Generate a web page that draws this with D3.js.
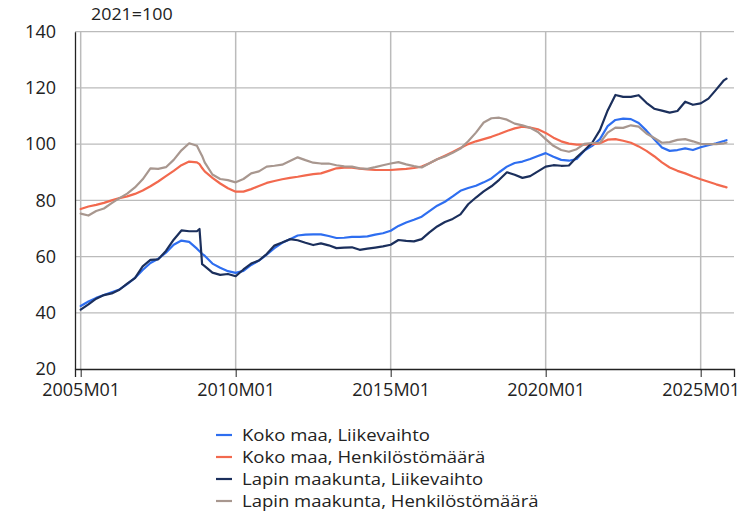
<!DOCTYPE html>
<html><head><meta charset="utf-8">
<script src="https://cdn.jsdelivr.net/npm/d3@7"></script>
<style>
html,body{margin:0;padding:0;background:#fff;}
text{font-family:"Open Sans",sans-serif;fill:#222;}
</style></head>
<body>
<svg id="chart" width="751" height="513"></svg>
<script>
const months = [
"2005M01","2005M04","2005M07","2005M10","2006M01","2006M04","2006M07","2006M10",
"2007M01","2007M04","2007M07","2007M10","2008M01","2008M04","2008M07","2008M10","2008M11","2008M12",
"2009M01","2009M04","2009M07","2009M10","2010M01","2010M04","2010M07","2010M10",
"2011M01","2011M04","2011M07","2011M10","2012M01","2012M04","2012M07","2012M10",
"2013M01","2013M04","2013M07","2013M10","2014M01","2014M04","2014M07","2014M10",
"2015M01","2015M04","2015M07","2015M10","2016M01","2016M04","2016M07","2016M10",
"2017M01","2017M04","2017M07","2017M10","2018M01","2018M04","2018M07","2018M10",
"2019M01","2019M04","2019M07","2019M10","2020M01","2020M04","2020M07","2020M10",
"2021M01","2021M04","2021M07","2021M10","2022M01","2022M04","2022M07","2022M10",
"2023M01","2023M04","2023M07","2023M10","2024M01","2024M04","2024M07","2024M10",
"2025M01","2025M04","2025M07","2025M10","2025M11"];

const kokoLiikevaihto = [42.4,44.0,45.3,46.3,47.3,48.3,50.2,52.4,55.2,57.7,59.2,61.4,64.2,65.7,65.2,62.8,61.9,61.0,
60.3,57.5,56.0,54.8,54.2,54.9,57.0,58.6,60.7,63.0,64.9,66.2,67.5,67.8,67.9,67.9,67.3,66.6,66.7,67.0,67.0,67.2,
67.8,68.3,69.2,70.9,72.1,73.1,74.2,76.2,78.1,79.5,81.4,83.4,84.4,85.2,86.4,87.8,90.0,92.0,93.3,93.8,94.7,95.8,
96.8,95.5,94.4,94.1,94.7,97.7,99.4,101.8,106.4,108.6,109.1,108.9,107.5,104.8,101.7,98.8,97.6,97.9,98.5,97.9,
98.9,99.6,100.3,101.1,101.4];

const kokoHenkilosto = [76.9,77.8,78.4,79.1,80.0,80.8,81.4,82.3,83.5,85.0,86.7,88.6,90.5,92.5,93.8,93.5,92.9,91.5,
90.3,88.0,86.0,84.3,83.1,83.1,84.0,85.1,86.2,86.9,87.5,88.0,88.4,88.9,89.3,89.6,90.5,91.4,91.6,91.6,91.3,91.0,
90.8,90.8,90.8,91.0,91.2,91.5,92.0,93.2,94.6,95.9,97.2,98.6,100.0,101.0,101.8,102.6,103.6,104.7,105.6,106.2,105.9,105.3,
104.0,102.3,101.0,100.2,99.8,99.8,100.0,100.3,101.6,101.8,101.2,100.5,99.2,97.6,95.7,93.5,91.7,90.5,89.6,88.5,
87.5,86.6,85.7,84.9,84.6];

const lappiLiikevaihto = [41.1,43.0,45.0,46.3,46.9,48.2,50.4,52.3,56.5,58.8,59.0,62.0,66.0,69.3,69.0,69.0,69.8,57.3,
56.6,54.3,53.5,53.8,53.0,55.4,57.5,58.6,60.9,63.9,65.0,66.2,65.8,64.9,64.1,64.7,64.0,63.0,63.2,63.3,62.4,62.8,
63.2,63.6,64.2,65.9,65.6,65.4,66.2,68.6,70.7,72.3,73.4,75.0,78.6,81.0,83.2,85.0,87.3,90.0,89.1,88.0,88.6,90.3,
92.0,92.5,92.3,92.4,95.3,97.8,100.5,105.0,112.0,117.5,116.8,116.8,117.4,114.7,112.6,111.9,111.2,111.8,115.1,114.0,
114.5,116.2,119.4,122.7,123.3];

const lappiHenkilosto = [75.3,74.6,76.2,77.1,79.0,80.8,82.4,84.6,87.5,91.4,91.2,91.8,94.4,97.8,100.3,99.4,97.6,95.8,
93.5,89.2,87.6,87.2,86.4,87.6,89.6,90.3,92.0,92.3,92.7,94.0,95.3,94.3,93.4,93.1,93.1,92.5,92.1,92.0,91.4,91.2,
91.8,92.5,93.1,93.6,92.8,92.2,91.7,93.2,94.6,95.6,96.9,98.4,101.0,104.1,107.7,109.2,109.4,108.7,107.3,106.7,105.8,104.3,
101.8,99.4,97.9,97.3,98.2,100.1,100.4,100.5,104.1,105.9,105.8,106.7,106.2,103.8,102.2,100.5,100.7,101.5,101.8,101.0,
100.1,100.0,100.0,100.3,100.5];

const seriesNames = ["Koko maa, Liikevaihto","Koko maa, Henkilöstömäärä","Lapin maakunta, Liikevaihto","Lapin maakunta, Henkilöstömäärä"];
const seriesValues = [kokoLiikevaihto, kokoHenkilosto, lappiLiikevaihto, lappiHenkilosto];
const seriesColors = ["#2e6ef0","#f2694e","#1b2f5c","#a8978f"];
const xTickLabels = ["2005M01","2010M01","2015M01","2020M01","2025M01"];
const yTicks = [20,40,60,80,100,120,140];
const unitLabel = "2021=100";

const monthIndex = s => (+s.slice(0,4) - 2005) * 12 + (+s.slice(5,7) - 1);

const svg = d3.select("#chart");
const x = d3.scaleLinear().domain([-2.2, 252.9]).range([75, 734]);
const y = d3.scaleLinear().domain([20, 140]).range([369, 31.7]);

// grid
svg.append("g").selectAll("line").data(yTicks.filter(d => d > 20)).join("line")
  .attr("x1", 75).attr("x2", 734).attr("y1", d => y(d)).attr("y2", d => y(d))
  .attr("stroke", "#bbbbbb").attr("stroke-width", 1.2);
svg.append("g").selectAll("line").data(xTickLabels).join("line")
  .attr("x1", d => x(monthIndex(d))).attr("x2", d => x(monthIndex(d)))
  .attr("y1", y(140)).attr("y2", y(20))
  .attr("stroke", "#bbbbbb").attr("stroke-width", 1.5);

// x axis
const xAxis = d3.axisBottom(x).tickValues(xTickLabels.map(monthIndex))
  .tickFormat((d, i) => xTickLabels[i]).tickSizeOuter(0).tickSize(8).tickPadding(6);
const gx = svg.append("g").attr("transform", `translate(0,${y(20)})`).call(xAxis);
gx.select(".domain").attr("stroke", "#222").attr("stroke-width", 1.3);
gx.selectAll(".tick line").attr("stroke", "#222");
gx.selectAll("text").style("font-family", "Open Sans").style("font-size", "18px").attr("fill", "#222");

// y axis
const yAxis = d3.axisLeft(y).tickValues(yTicks).tickSize(0).tickSizeOuter(0).tickPadding(19);
const gy = svg.append("g").attr("transform", "translate(75,0)").call(yAxis);
gy.select(".domain").attr("stroke", "#222").attr("stroke-width", 1.3);
gy.selectAll("text").style("font-family", "Open Sans").style("font-size", "18px").attr("fill", "#222");

// lines
const line = d3.line().x(d => x(d.m)).y(d => y(d.v));
seriesValues.forEach((vals, k) => {
  const pts = months.map((mo, i) => ({m: monthIndex(mo), v: vals[i]})).filter(p => p.v != null);
  svg.append("path").datum(pts).attr("d", line)
    .attr("fill", "none").attr("stroke", seriesColors[k]).attr("stroke-width", 2.2)
    .attr("stroke-linejoin", "round").attr("stroke-linecap", "round");
});

// unit label
svg.append("text").attr("transform", "translate(91,20) scale(1.05,1)").style("font-size", "17px").text(unitLabel);

// legend
const lg = svg.append("g");
seriesNames.forEach((n, i) => {
  const cy = 435 + i * 22;
  lg.append("line").attr("x1", 216).attr("x2", 232).attr("y1", cy).attr("y2", cy)
    .attr("stroke", seriesColors[i]).attr("stroke-width", 2.2);
  lg.append("text").attr("transform", `translate(242,${cy}) scale(1.09,1)`).attr("dy", "0.35em")
    .style("font-size", "17px").text(n);
});
</script>
</body></html>
